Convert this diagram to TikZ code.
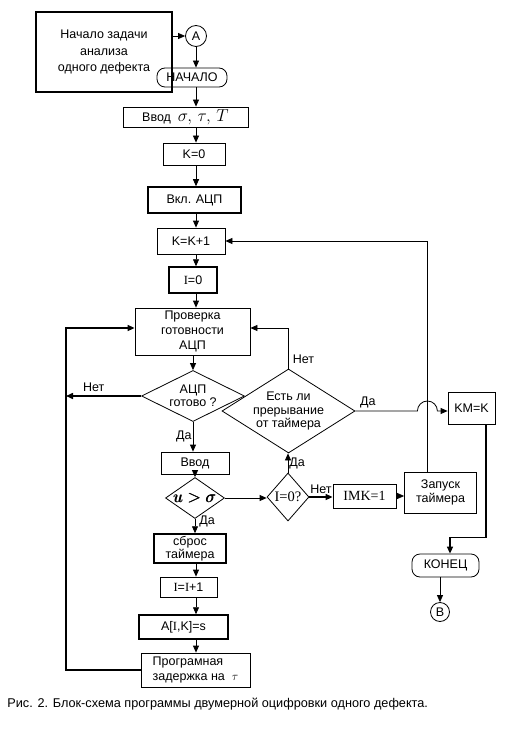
\documentclass[tikz,border=0pt]{standalone}
\usepackage{amsmath}
\usepackage{fontspec}
\setmainfont{Liberation Sans}
\newfontfamily\timesfont{Liberation Serif}
\usetikzlibrary{shapes.geometric, arrows.meta}

\newcommand{\Iv}{{\timesfont I}}

\begin{document}
\begin{tikzpicture}[x=1pt, y=-1pt, line width=0.8pt,
    font=\fontsize{12.5}{14.5}\selectfont,
    wh/.style 2 args={minimum width=#1pt, minimum height=#2pt},
    box/.style={draw, rectangle, inner sep=0pt, align=center},
    heavybox/.style={box, line width=1.5pt},
    term/.style={box, rounded corners=8pt},
    dia/.style={draw, diamond, inner sep=0pt, align=center, font=\fontsize{12.5}{13.5}\selectfont},
    conn/.style={-{Triangle[length=7pt,width=6pt]}},
    heavyconn/.style={conn, line width=1.5pt},
    lbl/.style={inner sep=1pt, font=\fontsize{12.5}{13}\selectfont}]
    \fill[white] (0,0) rectangle (520,730);
    \useasboundingbox (0,0) rectangle (520,730);

    % Start of the task
    \node[heavybox, wh={136}{80}, font=\fontsize{12.5}{16.5}\selectfont] (start) at (104,52) {Начало задачи\\анализа\\одного дефекта};
    \node[draw, circle, minimum size=21pt, inner sep=0pt] (circA) at (196,36) {A};
    \node[term, wh={70}{19}] (begin) at (192,77.5) {НАЧАЛО};

    % Main column
    \node[box, wh={125}{20}] (input) at (185.5,117) {Ввод \ {\fontsize{18}{18}\selectfont$\sigma,\,\tau,\,T$}};
    \node[box, wh={62}{22}] (kzero) at (194,154) {K=0};
    \node[heavybox, wh={93}{26}] (adcon) at (194.5,200) {Вкл. АЦП};
    \node[box, wh={68}{26}] (kinc) at (191,241) {K=K+1};
    \node[heavybox, wh={48}{26}] (izero) at (193,280) {\Iv=0};
    \node[box, wh={115}{47}, font=\fontsize{12.5}{15}\selectfont] (check) at (192.5,331.5) {Проверка\\готовности\\АЦП};
    \node[dia, wh={103}{51}, aspect=2.02] (ready) at (193,396) {АЦП\\готово ?};
    \node[box, wh={68}{22}] (read) at (195,463) {Ввод};
    \node[dia, wh={59}{41}, aspect=1.44, font=\fontsize{16}{16}\selectfont] (cmp) at (195,498) {$\pmb{u>\sigma}$};
    \node[heavybox, wh={72}{29}, font=\fontsize{12.5}{13}\selectfont] (reset) at (190,548.5) {сброс\\таймера};
    \node[box, wh={57}{20}] (iinc) at (188.5,587) {\Iv=\Iv+1};
    \node[heavybox, wh={89}{24}] (store) at (183.5,627) {A[\Iv,K]=s};
    \node[box, wh={109}{34}, align=left] (delay) at (195.5,670) {Програмная\\задержка на \ {\large$\tau$}};

    % Timer branch
    \node[dia, wh={133}{84}, aspect=1.58] (timer) at (288.5,411) {Есть ли\\прерывание\\от таймера};
    \node[dia, wh={42}{48}, aspect=0.875, font=\timesfont\fontsize{14.5}{15}\selectfont] (first) at (288,497) {I=0?};
    \node[box, wh={63}{24}, font=\timesfont\fontsize{14}{15}\selectfont] (imk) at (364.5,496) {IMK=1};
    \node[box, wh={72}{41}] (launch) at (440.5,492.5) {Запуск\\таймера};
    \node[box, wh={47}{32}] (km) at (471.5,408) {KM=K};
    \node[term, wh={67}{23}] (end) at (445.5,565.5) {КОНЕЦ};
    \node[draw, circle, minimum size=19pt, inner sep=0pt] (circB) at (440,612) {B};

    % Caption
    \node[anchor=west, inner sep=0pt, font=\fontsize{12.7}{14}\selectfont] (caption) at (7,704) {Рис. 2. Блок-схема программы двумерной оцифровки одного дефекта.};

    % Connectors
    \coordinate (col) at (196,0);
    \coordinate (loop) at (66,0);
    \coordinate (rail) at (427,0);
    \coordinate (checkin) at ([yshift=3.5pt]check.west);
    \coordinate (checkout) at ([yshift=3.5pt]check.east);

    \draw[conn] (start.east |- circA) -- (circA);
    \draw[conn] (circA.south) -- (circA.south |- begin.north);
    \draw[conn] (col |- begin.south) -- (col |- input.north);
    \draw[conn] (col |- input.south) -- (col |- kzero.north);
    \draw[conn] (col |- kzero.south) -- (col |- adcon.north);
    \draw[conn] (col |- adcon.south) -- (col |- kinc.north);
    \draw[conn] (col |- kinc.south) -- (col |- izero.north);
    \draw[conn] (col |- izero.south) -- (col |- check.north);
    \draw[conn] (ready.north |- check.south) -- (ready.north);
    \draw[heavyconn] (ready.west) -- node[lbl, above=3pt, pos=0.63] {Нет} (loop |- ready.west);
    \draw[conn] (ready.south) -- node[lbl, left, pos=0.5] {Да} (ready.south |- read.north);
    \draw[conn] (read.south) -- (cmp.north);
    \draw[conn] (cmp.south) -- node[lbl, right=3pt, pos=0.2] {Да} (cmp.south |- reset.north);
    \draw[conn] (col |- reset.south) -- (col |- iinc.north);
    \draw[conn] (col |- iinc.south) -- (col |- store.north);
    \draw[conn] (col |- store.south) -- (col |- delay.north);
    \draw[heavyconn] (delay.west) -- (loop |- delay.west) -- (loop |- checkin) -- (checkin);

    \draw[conn] (cmp.east) -- (cmp.east -| first.west);
    \draw[conn] (first.north) -- node[lbl, right] {Да} (first.north |- timer.south);
    \draw[heavyconn] (first.east) -- node[lbl, above=2pt] {Нет} (first.east -| imk.west);
    \draw[conn] (imk.east) -- (imk.east -| launch.west);
    \draw[conn] (rail |- launch.north) -- (rail |- kinc.east) -- (kinc.east);
    \draw[conn] (timer.north) -- node[lbl, right=3pt, pos=0.22] {Нет} (timer.north |- checkout) -- (checkout);
    \draw[conn] (timer.east) -- node[lbl, above=2pt, pos=0.2] {Да} ++(62,0) arc[start angle=180, end angle=0, radius=10pt] -- (km.west |- timer.east);
    \draw[heavyconn] ([xshift=14.5pt]km.south) |- ([xshift=4.5pt, yshift=16pt]end.north) -- ([xshift=4.5pt]end.north);
    \draw[conn] (circB.north |- end.south) -- (circB.north);
\end{tikzpicture}
\end{document}
